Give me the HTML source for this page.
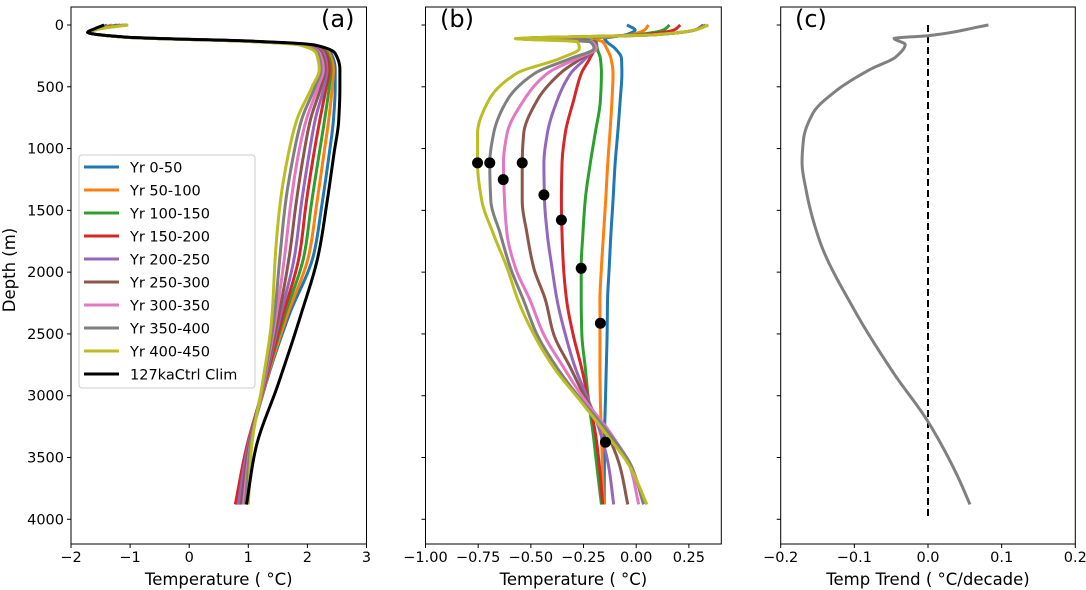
<!DOCTYPE html>
<html><head><meta charset="utf-8"><style>
body{margin:0;background:#fff;}
svg{display:block;font-family:"DejaVu Sans","Liberation Sans",sans-serif;}
</style></head><body>
<svg id="chart" width="1086" height="590" viewBox="0 0 1086 590" xmlns="http://www.w3.org/2000/svg">
<rect x="0" y="0" width="1086" height="590" fill="#fff"/>
<g id="gA"></g>
<g id="gB"></g>
<g id="gC"></g>
</svg>
<script>
const seriesNames = ["Yr 0-50","Yr 50-100","Yr 100-150","Yr 150-200","Yr 200-250","Yr 250-300","Yr 300-350","Yr 350-400","Yr 400-450"];
const seriesColors = ["#1f77b4","#ff7f0e","#2ca02c","#d62728","#9467bd","#8c564b","#e377c2","#7f7f7f","#bcbd22"];
const depthTicks = [0,500,1000,1500,2000,2500,3000,3500,4000];
const xTicksA = [-2,-1,0,1,2,3];
const xTicksB = [-1.00,-0.75,-0.50,-0.25,0.00,0.25];
const xTicksC = [-0.2,-0.1,0.0,0.1,0.2];
// Panel (a)
const depthA = [0,30,60,100,130,160,230,360,500,770,1040,1440,1850,2360,2900,3440,3880];
const climA  = [-1.44,-1.60,-1.72,-1.00,1.03,2.10,2.47,2.55,2.55,2.53,2.45,2.33,2.19,1.88,1.51,1.12,0.97];
const tempA0 = [-1.39,-1.55,-1.70,-1.05,0.95,2.05,2.40,2.47,2.47,2.44,2.37,2.25,2.11,1.68,1.30,1.00,0.85];
const tempA1 = [-1.31,-1.55,-1.70,-1.05,0.94,2.03,2.37,2.44,2.42,2.36,2.28,2.16,2.03,1.65,1.29,0.99,0.84];
const tempA2 = [-1.22,-1.54,-1.70,-1.05,0.93,2.00,2.34,2.40,2.37,2.29,2.20,2.07,1.95,1.61,1.28,0.97,0.80];
const tempA3 = [-1.17,-1.53,-1.70,-1.05,0.92,1.98,2.31,2.37,2.32,2.21,2.11,1.98,1.87,1.58,1.28,0.96,0.78];
const tempA4 = [-1.12,-1.52,-1.70,-1.05,0.91,1.95,2.28,2.33,2.28,2.13,2.03,1.90,1.79,1.54,1.27,0.98,0.83];
const tempA5 = [-1.08,-1.52,-1.70,-1.05,0.90,1.93,2.24,2.30,2.23,2.05,1.94,1.81,1.70,1.51,1.26,1.00,0.88];
const tempA6 = [-1.07,-1.51,-1.70,-1.05,0.88,1.90,2.21,2.27,2.18,1.98,1.85,1.72,1.62,1.47,1.26,1.02,0.92];
const tempA7 = [-1.05,-1.51,-1.70,-1.05,0.87,1.88,2.18,2.23,2.13,1.90,1.77,1.63,1.54,1.44,1.25,1.03,0.95];
const tempA8 = [-1.03,-1.50,-1.70,-1.05,0.85,1.85,2.15,2.20,2.08,1.82,1.68,1.54,1.46,1.40,1.24,1.05,1.00];
// Panel (b)
const depthB = [0,40,80,110,135,190,270,390,610,880,1120,1420,1690,1960,2230,2500,2770,3040,3300,3580,3880];
const anomB0 = [-0.044,-0.005,-0.05,-0.15,-0.14,-0.10,-0.07,-0.068,-0.076,-0.088,-0.10,-0.11,-0.12,-0.128,-0.136,-0.138,-0.142,-0.146,-0.15,-0.151,-0.152];
const anomB1 = [0.058,0.04,-0.03,-0.20,-0.16,-0.14,-0.12,-0.11,-0.115,-0.125,-0.135,-0.145,-0.155,-0.165,-0.172,-0.172,-0.172,-0.17,-0.165,-0.16,-0.155];
const anomB2 = [0.158,0.13,0.0,-0.30,-0.19,-0.185,-0.17,-0.165,-0.17,-0.195,-0.218,-0.242,-0.253,-0.261,-0.261,-0.258,-0.242,-0.226,-0.205,-0.186,-0.165];
const anomB3 = [0.209,0.18,0.02,-0.40,-0.20,-0.20,-0.22,-0.26,-0.297,-0.337,-0.352,-0.355,-0.352,-0.345,-0.33,-0.30,-0.26,-0.226,-0.194,-0.174,-0.159];
const anomB4 = [0.318,0.28,0.08,-0.50,-0.20,-0.20,-0.24,-0.31,-0.375,-0.422,-0.438,-0.435,-0.422,-0.40,-0.375,-0.337,-0.29,-0.226,-0.17,-0.13,-0.107];
const anomB5 = [0.32,0.28,0.08,-0.55,-0.20,-0.19,-0.26,-0.36,-0.47,-0.534,-0.541,-0.541,-0.518,-0.487,-0.43,-0.392,-0.313,-0.234,-0.14,-0.076,-0.04];
const anomB6 = [0.33,0.28,0.08,-0.56,-0.21,-0.19,-0.28,-0.42,-0.534,-0.613,-0.63,-0.625,-0.613,-0.574,-0.503,-0.44,-0.345,-0.242,-0.123,-0.028,0.012];
const anomB7 = [0.33,0.28,0.08,-0.57,-0.22,-0.20,-0.31,-0.48,-0.613,-0.677,-0.695,-0.69,-0.645,-0.598,-0.534,-0.472,-0.377,-0.258,-0.131,-0.02,0.035];
const anomB8 = [0.343,0.28,0.08,-0.574,-0.28,-0.27,-0.36,-0.566,-0.70,-0.753,-0.753,-0.733,-0.678,-0.614,-0.56,-0.487,-0.392,-0.266,-0.147,-0.028,0.051];
const minDepth = [3377,2414,1969,1578,1375,1116,1251,1116,1116];
const minTemp = [-0.146,-0.17,-0.261,-0.355,-0.438,-0.541,-0.631,-0.695,-0.753];
// Panel (c)
const depthC = [0,87,108,157,255,361,529,712,925,1108,1351,1748,2296,2814,3210,3637,3880];
const trendC = [0.082,0.0,-0.046,-0.031,-0.043,-0.079,-0.124,-0.156,-0.169,-0.171,-0.165,-0.147,-0.101,-0.047,0.0,0.039,0.057];

const tempA = [tempA0,tempA1,tempA2,tempA3,tempA4,tempA5,tempA6,tempA7,tempA8];
const anomB = [anomB0,anomB1,anomB2,anomB3,anomB4,anomB5,anomB6,anomB7,anomB8];

const NS="http://www.w3.org/2000/svg";
const TOP=7, BOT=544;
const yS = d => 25 + d*0.12357;
function mk(parent, tag, attrs, text){const e=document.createElementNS(NS,tag);for(const k in attrs)e.setAttribute(k,attrs[k]);if(text!==undefined)e.textContent=text;parent.appendChild(e);return e;}
// monotone cubic (Fritsch-Carlson) of value as function of depth, sampled densely
function profilePath(ds, vs, xS){
  const n=ds.length, h=[], dl=[], m=new Array(n);
  for(let i=0;i<n-1;i++){h[i]=ds[i+1]-ds[i];dl[i]=(vs[i+1]-vs[i])/h[i];}
  m[0]=dl[0];m[n-1]=dl[n-2];
  for(let i=1;i<n-1;i++){
    if(dl[i-1]*dl[i]<=0)m[i]=0;
    else{const w1=2*h[i]+h[i-1],w2=h[i]+2*h[i-1];m[i]=(w1+w2)/(w1/dl[i-1]+w2/dl[i]);}
  }
  let d="";
  for(let i=0;i<n-1;i++){
    const steps=Math.max(4,Math.ceil(h[i]/8));
    for(let k=(i===0?0:1);k<=steps;k++){
      const t=k/steps,t2=t*t,t3=t2*t;
      const v=(2*t3-3*t2+1)*vs[i]+(t3-2*t2+t)*h[i]*m[i]+(-2*t3+3*t2)*vs[i+1]+(t3-t2)*h[i]*m[i+1];
      const dep=ds[i]+t*h[i];
      d+=(d?" L":"M")+xS(v).toFixed(2)+","+yS(dep).toFixed(2);
    }
  }
  return d;
}
function axes(g, x0, x1, ticks, xS, fmt, xlabel, plabel, ylabels){
  for(const t of depthTicks){
    const y=yS(t);
    const tk=mk(g,"line",{x1:x0-4,x2:x0,y1:y,y2:y,stroke:"#000","stroke-width":1});
    
    
    if(ylabels){
      const tl=mk(g,"text",{x:x0-7,y:y+5,"text-anchor":"end","font-size":14.5},String(t));
      
      
    }
  }
  for(const t of ticks){
    const x=xS(t);
    const tk=mk(g,"line",{x1:x,x2:x,y1:BOT,y2:BOT+4,stroke:"#000","stroke-width":1});
    
    
    const tl=mk(g,"text",{x:x,y:BOT+18,"text-anchor":"middle","font-size":14.5},fmt(t).replace("-","\u2212"));
    
    
  }
  const xl=mk(g,"text",{x:(x0+x1)/2,y:585,"text-anchor":"middle","font-size":16.5},xlabel);
  
  
  const pl=mk(g,"text",{x:plabel[0],y:plabel[1],"font-size":24},plabel[2]);
  
  
}
function frame(g,x0,x1){
  const f=mk(g,"rect",{x:x0,y:TOP,width:x1-x0,height:BOT-TOP,fill:"none",stroke:"#000","stroke-width":1});
  
  
}
// Panel A
(function(){
  const g=document.getElementById("gA");
  const x0=71,x1=366.5; const xS=v=>x0+(v+2)*(x1-x0)/5;
  axes(g,x0,x1,xTicksA,xS,t=>String(t),"Temperature ( \u00B0C)",[321,27,"(a)"],true);
  for(let s=0;s<tempA.length;s++){
    const p=mk(g,"path",{d:profilePath(depthA,tempA[s],xS),fill:"none",stroke:seriesColors[s],"stroke-width":3,"stroke-linejoin":"round"});
    
    
  }
  const pc=mk(g,"path",{d:profilePath(depthA,climA,xS),fill:"none",stroke:"#000","stroke-width":3,"stroke-linejoin":"round"});
  
  
  frame(g,x0,x1);
  const lg=mk(g,"g",{});
  
  
  mk(lg,"rect",{x:79,y:155,width:176,height:233,rx:3,fill:"#fff","fill-opacity":0.8,stroke:"#ccc","stroke-width":1});
  const names=seriesNames.concat(["127kaCtrl Clim"]);
  const cols=seriesColors.concat(["#000"]);
  names.forEach((n,i)=>{
    const y=167+i*23;
    const e=mk(lg,"g",{});
    
    
    mk(e,"line",{x1:84,x2:119,y1:y,y2:y,stroke:cols[i],"stroke-width":3});
    mk(e,"text",{x:130,y:y+5.5,"font-size":14.5},n);
  });
  const yl=mk(g,"text",{x:15,y:270,"text-anchor":"middle","font-size":16.5,transform:"rotate(-90 15 270)"},"Depth (m)");
  
  
})();
// Panel B
(function(){
  const g=document.getElementById("gB");
  const x0=425.5,x1=721.3; const xS=v=>x0+(v+1)*210.7;
  axes(g,x0,x1,xTicksB,xS,t=>t.toFixed(2),"Temperature ( \u00B0C)",[440,27,"(b)"],false);
  for(let s=0;s<anomB.length;s++){
    const p=mk(g,"path",{d:profilePath(depthB,anomB[s],xS),fill:"none",stroke:seriesColors[s],"stroke-width":3,"stroke-linejoin":"round"});
    
    
  }
  for(let s=0;s<minTemp.length;s++){
    const c=mk(g,"circle",{cx:xS(minTemp[s]),cy:yS(minDepth[s]),r:5.5,fill:"#000"});
    
    
  }
  frame(g,x0,x1);
})();
// Panel C
(function(){
  const g=document.getElementById("gC");
  const x0=780.7,x1=1075.3; const xS=v=>x0+(v+0.2)*(x1-x0)/0.4;
  axes(g,x0,x1,xTicksC,xS,t=>t.toFixed(1),"Temp Trend ( \u00B0C/decade)",[795,27,"(c)"],false);
  const z=mk(g,"line",{x1:xS(0),x2:xS(0),y1:yS(0),y2:yS(4000),stroke:"#000","stroke-width":2,"stroke-dasharray":"7,4"});
  
  
  const p=mk(g,"path",{d:profilePath(depthC,trendC,xS),fill:"none",stroke:"#808080","stroke-width":3,"stroke-linejoin":"round"});
  
  
  frame(g,x0,x1);
})();
</script>
</body></html>
